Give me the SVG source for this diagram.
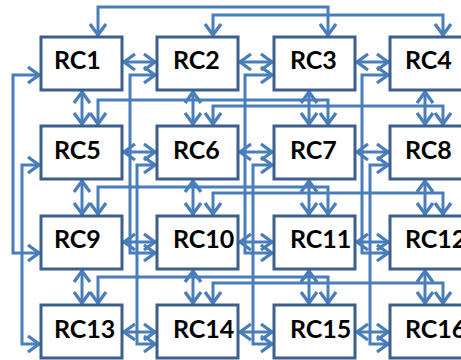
<svg xmlns="http://www.w3.org/2000/svg" width="461" height="360" viewBox="0 0 461 360">
<style>
.box{fill:#fff;stroke:#3C5F8E;stroke-width:3}
.lbl{font-family:Lato,"Liberation Sans",sans-serif;font-weight:bold;font-size:25px;fill:#000}
.c{fill:none;stroke:#4A7EBB;stroke-width:3;marker-start:url(#ah);marker-end:url(#ah)}
</style>
<defs>
<marker id="ah" viewBox="0 0 18 20" refX="15" refY="10" markerWidth="18" markerHeight="20" markerUnits="userSpaceOnUse" orient="auto-start-reverse">
<path d="M2,2 L13,10 L2,18" fill="none" stroke="#4A7EBB" stroke-width="3.3"/>
</marker>
</defs>
<g id="connectors">
<path class="c" d="M98,37 V7 H328 V37"/>
<path class="c" d="M213,37 V15 H443 V37"/>
<path class="c" d="M98,126 V100 H328 V126"/>
<path class="c" d="M213,126 V106 H443 V126"/>
<path class="c" d="M98,216 V187 H328 V216"/>
<path class="c" d="M213,216 V193 H443 V216"/>
<path class="c" d="M98,305 V277 H328 V305"/>
<path class="c" d="M213,305 V283 H443 V305"/>
<path class="c" d="M41,75 H13 V253 H41"/>
<path class="c" d="M41,165 H22 V344 H41"/>
<path class="c" d="M157,75 H130 V253 H157"/>
<path class="c" d="M157,165 H137 V344 H157"/>
<path class="c" d="M274,75 H245 V253 H274"/>
<path class="c" d="M274,165 H253 V344 H274"/>
<path class="c" d="M390,75 H362 V253 H390"/>
<path class="c" d="M390,165 H370 V344 H390"/>
<path class="c" d="M122,62 H157"/>
<path class="c" d="M238,62 H274"/>
<path class="c" d="M355,62 H390"/>
<path class="c" d="M122,152 H157"/>
<path class="c" d="M238,152 H274"/>
<path class="c" d="M355,152 H390"/>
<path class="c" d="M122,242 H157"/>
<path class="c" d="M238,242 H274"/>
<path class="c" d="M355,242 H390"/>
<path class="c" d="M122,332 H157"/>
<path class="c" d="M238,332 H274"/>
<path class="c" d="M355,332 H390"/>
<path class="c" d="M82,90 V126"/>
<path class="c" d="M193,90 V126"/>
<path class="c" d="M309,90 V126"/>
<path class="c" d="M425,90 V126"/>
<path class="c" d="M82,179 V216"/>
<path class="c" d="M193,179 V216"/>
<path class="c" d="M309,179 V216"/>
<path class="c" d="M425,179 V216"/>
<path class="c" d="M82,269 V305"/>
<path class="c" d="M193,269 V305"/>
<path class="c" d="M309,269 V305"/>
<path class="c" d="M425,269 V305"/>
</g>
<g id="RC1"><rect class="box" x="41" y="37" width="81" height="53"/><text class="lbl" x="54" y="69">RC1</text></g>
<g id="RC2"><rect class="box" x="157" y="37" width="81" height="53"/><text class="lbl" x="173" y="69">RC2</text></g>
<g id="RC3"><rect class="box" x="274" y="37" width="81" height="53"/><text class="lbl" x="290" y="69">RC3</text></g>
<g id="RC4"><rect class="box" x="390" y="37" width="81" height="53"/><text class="lbl" x="405" y="69">RC4</text></g>
<g id="RC5"><rect class="box" x="41" y="126" width="81" height="53"/><text class="lbl" x="54" y="159">RC5</text></g>
<g id="RC6"><rect class="box" x="157" y="126" width="81" height="53"/><text class="lbl" x="173" y="159">RC6</text></g>
<g id="RC7"><rect class="box" x="274" y="126" width="81" height="53"/><text class="lbl" x="290" y="159">RC7</text></g>
<g id="RC8"><rect class="box" x="390" y="126" width="81" height="53"/><text class="lbl" x="405" y="159">RC8</text></g>
<g id="RC9"><rect class="box" x="41" y="216" width="81" height="53"/><text class="lbl" x="54" y="248">RC9</text></g>
<g id="RC10"><rect class="box" x="157" y="216" width="81" height="53"/><text class="lbl" x="173" y="248">RC10</text></g>
<g id="RC11"><rect class="box" x="274" y="216" width="81" height="53"/><text class="lbl" x="290" y="248">RC11</text></g>
<g id="RC12"><rect class="box" x="390" y="216" width="81" height="53"/><text class="lbl" x="405" y="248">RC12</text></g>
<g id="RC13"><rect class="box" x="41" y="305" width="81" height="53"/><text class="lbl" x="54" y="338">RC13</text></g>
<g id="RC14"><rect class="box" x="157" y="305" width="81" height="53"/><text class="lbl" x="173" y="338">RC14</text></g>
<g id="RC15"><rect class="box" x="274" y="305" width="81" height="53"/><text class="lbl" x="290" y="338">RC15</text></g>
<g id="RC16"><rect class="box" x="390" y="305" width="81" height="53"/><text class="lbl" x="405" y="338">RC16</text></g>
</svg>
